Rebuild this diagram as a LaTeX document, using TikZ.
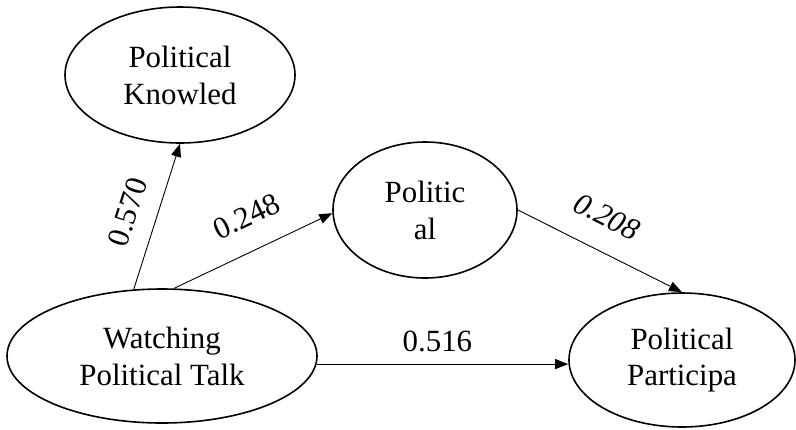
\documentclass[tikz,border=0pt]{standalone}
\usepackage{fontspec}
\setmainfont{LiberationSerif}[Extension=.ttf,UprightFont=*-Regular,ItalicFont=*-Italic,BoldFont=*-Bold]
\usetikzlibrary{arrows.meta,shapes.geometric}

\begin{document}
\begin{tikzpicture}[x=1bp,y=-1bp,
  var/.style={draw,ellipse,line width=1.6bp,inner sep=0pt,align=center,font=\fontsize{31}{37}\selectfont},
  coef/.style={inner sep=0pt,anchor=south,font=\fontsize{31}{37}\selectfont},
  arrow/.style={-{Triangle[length=13bp,width=10bp]},line width=0.9bp}
]
\useasboundingbox (0,0) rectangle (796,429);
\node[var,minimum width=230bp,minimum height=136bp] (knowl) at (180,75) {Political\\Knowled};
\node[var,minimum width=310bp,minimum height=134bp] (watch) at (162,356) {Watching\\Political Talk};
\node[var,minimum width=184bp,minimum height=136bp] (effic) at (425,210) {Politic\\al};
\node[var,minimum width=226bp,minimum height=134bp] (partic) at (682,360) {Political\\Participa};
\draw[arrow] (watch.113) -- (knowl.south) node[coef,sloped,pos=0.47,yshift=18bp] {0.570};
\draw[arrow] (watch.80) -- (effic.182) node[coef,sloped,pos=0.55,yshift=23bp] {0.248};
\draw[arrow] (effic.east) -- (partic.north) node[coef,sloped,pos=0.45,yshift=23bp] {\itshape 0.208};
\draw[arrow] (watch.-3) -- (watch.-3 -| partic.west) node[coef,pos=0.48,yshift=12bp] {0.516};
\end{tikzpicture}
\end{document}
